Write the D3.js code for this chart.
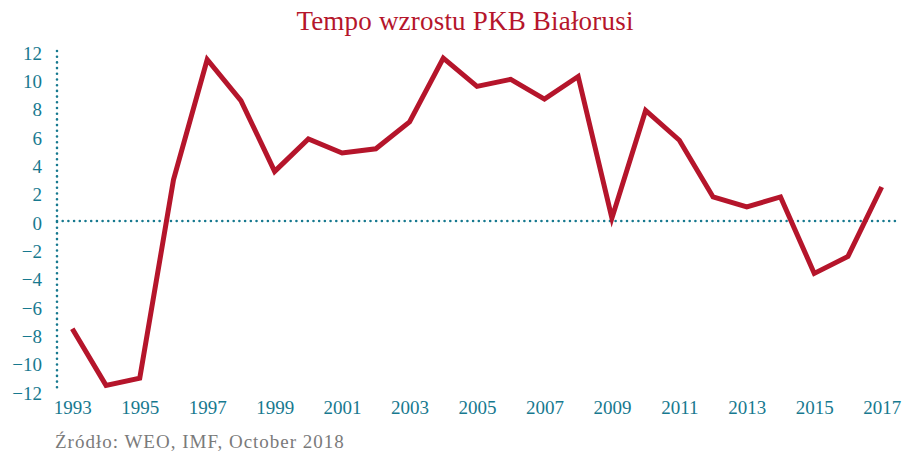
<!DOCTYPE html>
<html>
<head>
<meta charset="utf-8">
<script src="https://cdn.jsdelivr.net/npm/d3@7"></script>
<style>
  body { margin: 0; background: #fff; }
  svg { display: block; font-family: 'Liberation Serif', 'DejaVu Serif', serif; }
</style>
</head>
<body>
<div id="chart"></div>
<script>
// GDP growth of Belarus, %
const years = [1993, 1994, 1995, 1996, 1997, 1998, 1999, 2000, 2001, 2002, 2003, 2004, 2005,
  2006, 2007, 2008, 2009, 2010, 2011, 2012, 2013, 2014, 2015, 2016, 2017];
const growth = [-7.6, -11.6, -11.1, 2.9, 11.4, 8.5, 3.5, 5.8, 4.8, 5.1, 7.0, 11.5, 9.5,
  10.0, 8.6, 10.2, 0.2, 7.8, 5.7, 1.7, 1.0, 1.7, -3.7, -2.5, 2.4];
const xTicks = [1993, 1995, 1997, 1999, 2001, 2003, 2005, 2007, 2009, 2011, 2013, 2015, 2017];
const yTicks = [-12, -10, -8, -6, -4, -2, 0, 2, 4, 6, 8, 10, 12];

const width = 904, height = 453;
const teal = '#17798f', red = '#b5152b';

const svg = d3.select('#chart').append('svg')
  .attr('width', width)
  .attr('height', height);

const x = d3.scaleLinear().domain([1993, 2017]).range([72.3, 881.7]);
const y = d3.scaleLinear().domain([-12, 12]).range([391, 51]);

// title
svg.append('text')
  .attr('x', 465).attr('y', 30)
  .attr('text-anchor', 'middle')
  .attr('fill', red)
  .style('font-size', '27px')
  .style('letter-spacing', '0.2px')
  .text('Tempo wzrostu PKB Białorusi');

// dotted y axis line and zero line
svg.append('line')
  .attr('x1', 57).attr('x2', 57)
  .attr('y1', y(12)).attr('y2', y(-12))
  .attr('stroke', teal).attr('stroke-width', 2.6)
  .attr('stroke-linecap', 'round').attr('stroke-dasharray', '0,5.7');
svg.append('line')
  .attr('x1', 57).attr('x2', 900)
  .attr('y1', y(0)).attr('y2', y(0))
  .attr('stroke', teal).attr('stroke-width', 2.6)
  .attr('stroke-linecap', 'round').attr('stroke-dasharray', '0,5.7');

const yAxis = svg.append('g')
  .attr('transform', 'translate(57,2)')
  .call(d3.axisLeft(y).tickValues(yTicks).tickSize(0).tickPadding(15));
const xAxis = svg.append('g')
  .attr('transform', 'translate(0,391)')
  .call(d3.axisBottom(x).tickValues(xTicks).tickSize(0).tickPadding(10).tickFormat(d3.format('d')));
[yAxis, xAxis].forEach(g => {
  g.select('.domain').remove();
  g.selectAll('text')
    .attr('fill', teal)
    .style('font-family', "'Liberation Serif', serif")
    .style('font-size', '19px');
});

// line
const line = d3.line()
  .x((d, i) => x(years[i]))
  .y(d => y(d));
svg.append('path')
  .datum(growth)
  .attr('fill', 'none')
  .attr('stroke', red)
  .attr('stroke-width', 5)
  .attr('stroke-linejoin', 'miter')
  .attr('d', line);

// source
svg.append('text')
  .attr('x', 55).attr('y', 448)
  .attr('fill', '#7a7a7a')
  .style('font-size', '19px')
  .style('letter-spacing', '1px')
  .text('Źródło: WEO, IMF, October 2018');
</script>
</body>
</html>
